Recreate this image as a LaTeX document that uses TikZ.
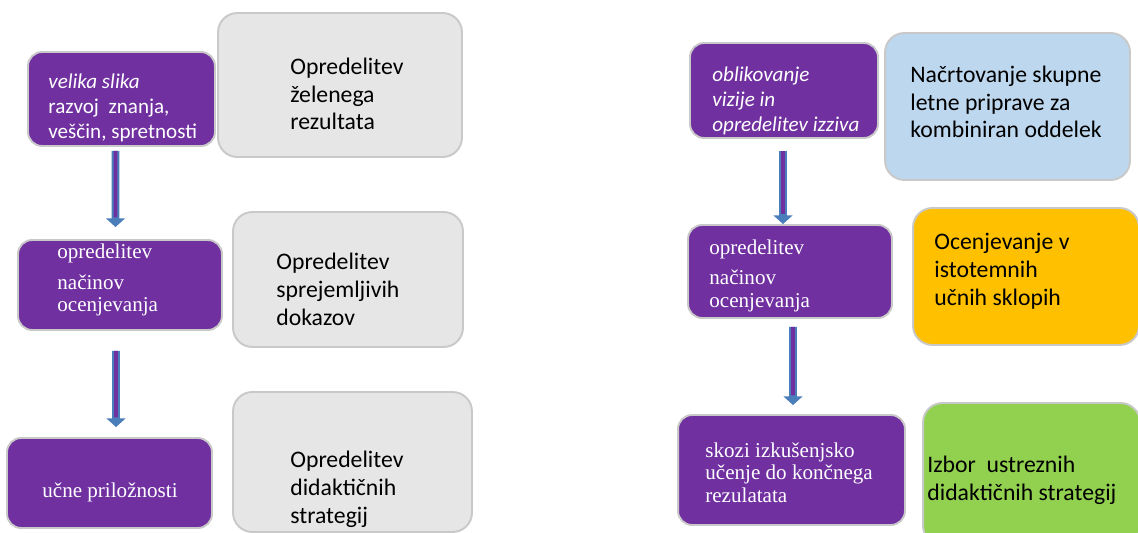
\documentclass[tikz,border=0pt]{standalone}
\usepackage{fontspec}
\setmainfont{Carlito}
\newfontfamily\timesfont{Liberation Serif}
\usetikzlibrary{arrows.meta}
\definecolor{stepviolet}{HTML}{7030A0}
\definecolor{steprim}{HTML}{C9C9C9}
\definecolor{goalgray}{HTML}{E7E6E6}
\definecolor{planblue}{HTML}{BDD7EE}
\definecolor{gradeorange}{HTML}{FFC000}
\definecolor{choicegreen}{HTML}{92D050}
\definecolor{flowblue}{HTML}{4A7EBB}
\newcommand{\goalfont}{\fontsize{13.5}{15.9}\selectfont}
\newcommand{\stepfont}{\fontsize{12}{14.5}\selectfont}
\newcommand{\serfont}{\timesfont\fontsize{12}{12.8}\selectfont}

\begin{document}
\begin{tikzpicture}[x=0.02cm, y=-0.02cm,
  stepbox/.style={draw=steprim, line width=1.1pt, fill=stepviolet,
    rounded corners=8pt, inner sep=0pt},
  goalbox/.style={draw=steprim, line width=1.1pt, rounded corners=11pt,
    inner sep=0pt},
  steptext/.style={text=white, align=left, inner sep=0pt, anchor=base west},
  goaltext/.style={text=black, align=left, inner sep=0pt, anchor=base west,
    font=\goalfont},
  flow/.style={draw=flowblue, line width=4.4pt,
    -{Triangle[width=10.8pt, length=5pt]},
    postaction={draw=stepviolet, line width=2.2pt, -, shorten >=5.5pt}}]
  \useasboundingbox (0,0) rectangle (1138,533);

  % left column (text nodes sit on the baseline of their last line)
  \node[stepbox, minimum width=3.74cm, minimum height=1.88cm]
    (a1) at (121.5,99) {};
  \node[steptext, font=\stepfont] (a1t) at (48,139)
    {\textit{velika slika}\\razvoj~ znanja,\\veščin, spretnosti};

  \node[goalbox, fill=goalgray, minimum width=4.88cm, minimum height=2.88cm]
    (g1) at (340,85) {};
  \node[goaltext] (g1t) at (290,130) {Opredelitev\\želenega\\rezultata};

  \node[stepbox, minimum width=4.08cm, minimum height=1.80cm]
    (a2) at (120,285) {};
  \node[steptext, font=\serfont] (a2t) at (57,312)
    {opredelitev\\[5pt]načinov\\ocenjevanja};

  \node[goalbox, fill=goalgray, minimum width=4.60cm, minimum height=2.70cm]
    (g2) at (348,279.5) {};
  \node[goaltext] (g2t) at (276,325) {Opredelitev\\sprejemljivih\\dokazov};

  \node[stepbox, minimum width=4.10cm, minimum height=1.80cm]
    (a3) at (109.5,483) {};
  \node[steptext, font=\serfont] (a3t) at (42,497) {učne priložnosti};

  \node[goalbox, fill=goalgray, minimum width=4.78cm, minimum height=2.80cm]
    (g3) at (352.5,462) {};
  \node[goaltext] (g3t) at (290,523) {Opredelitev\\didaktičnih\\strategij};

  % right column
  \node[stepbox, minimum width=3.76cm, minimum height=1.90cm]
    (b1) at (784,90.5) {};
  \node[steptext, font=\stepfont\itshape] (b1t) at (712,132)
    {oblikovanje\\vizije in\\opredelitev izziva};

  \node[goalbox, fill=planblue, minimum width=4.90cm, minimum height=2.94cm]
    (c1) at (1007.5,106.5) {};
  \node[goaltext] (c1t) at (910,138)
    {Načrtovanje skupne\\letne priprave za\\kombiniran oddelek};

  \node[stepbox, minimum width=4.08cm, minimum height=1.86cm]
    (b2) at (790,271.5) {};
  \node[steptext, font=\serfont] (b2t) at (709,307)
    {opredelitev\\[4pt]načinov\\ocenjevanja};

  \node[goalbox, fill=gradeorange, minimum width=4.52cm, minimum height=2.74cm]
    (c2) at (1026,276.5) {};
  \node[goaltext] (c2t) at (934,305) {Ocenjevanje v\\istotemnih\\učnih sklopih};

  \node[stepbox, minimum width=4.54cm, minimum height=2.20cm]
    (b3) at (791.5,470) {};
  \node[steptext, font=\serfont] (b3t) at (705,502)
    {skozi izkušenjsko\\učenje do končnega\\rezulatata};

  \node[goalbox, fill=choicegreen, minimum width=4.34cm, minimum height=2.84cm]
    (c3) at (1031.5,474) {};
  \node[goaltext] (c3t) at (927,500) {Izbor~ ustreznih\\didaktičnih strategij};

  % arrows
  \draw[flow] ([shift={(-6,4)}]a1.south) -- ([shift={(-4.5,-12)}]a2.north);
  \draw[flow] ([shift={(-4,20)}]a2.south) -- ([shift={(6.5,-10)}]a3.north);
  \draw[flow] ([shift={(-1,12)}]b1.south) -- ([shift={(-7,0)}]b2.north);
  \draw[flow] ([shift={(3,8)}]b2.south) -- ([shift={(1.5,-9)}]b3.north);
\end{tikzpicture}
\end{document}
